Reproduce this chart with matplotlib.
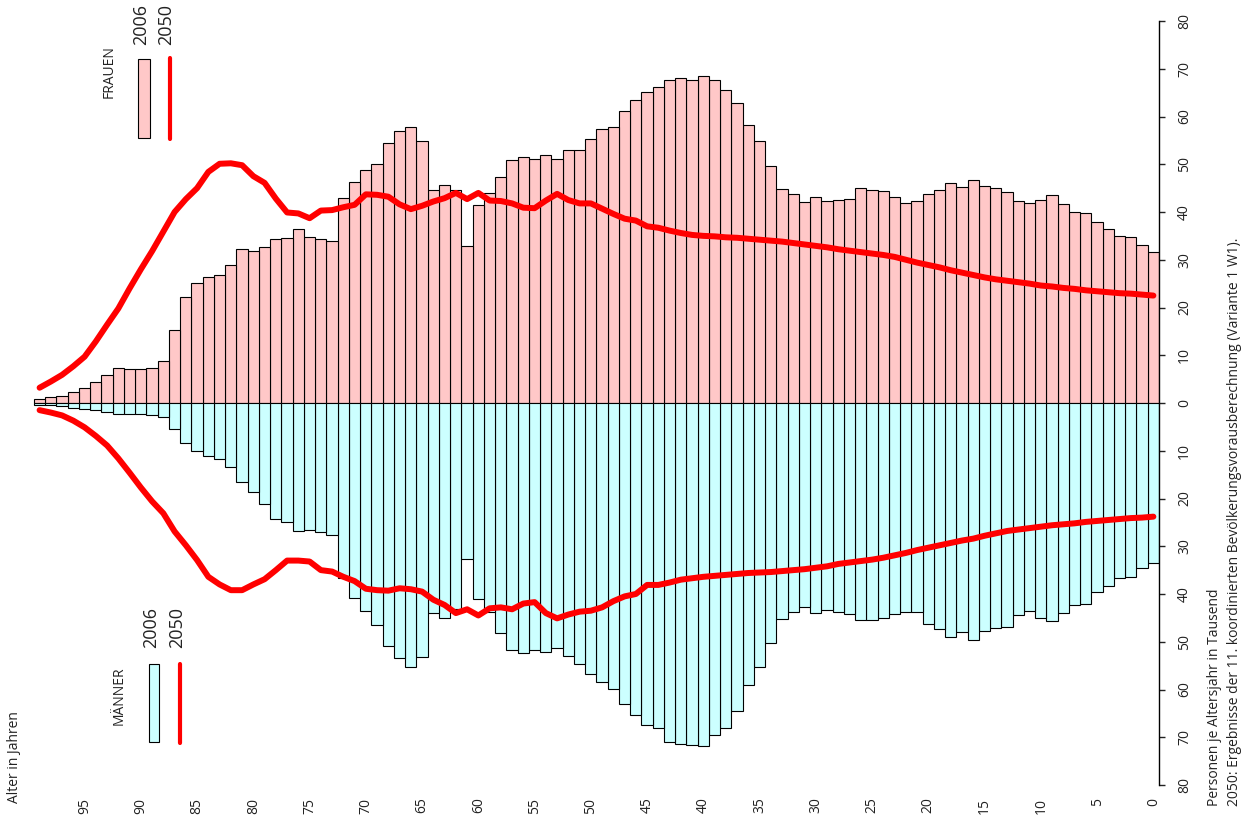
import matplotlib.pyplot as plt
from matplotlib.patches import Rectangle
from matplotlib.lines import Line2D
import numpy as np

plt.rcParams['font.family'] = ['Open Sans', 'DejaVu Sans']

ages = list(range(100))

# 2006, Personen je Altersjahr in Tausend (Alter 0..99)
frauen_2006 = [31.7, 33.0, 34.8, 35.0, 36.4, 38.0, 39.7, 40.1, 41.7, 43.6,
               42.5, 41.9, 42.4, 44.2, 45.0, 45.5, 46.8, 45.2, 46.1, 44.7,
               43.7, 42.4, 41.9, 43.1, 44.4, 44.7, 45.1, 42.8, 42.6, 42.4,
               43.1, 42.0, 43.8, 44.9, 49.6, 54.9, 58.2, 62.8, 65.5, 67.6,
               68.4, 67.6, 68.1, 67.6, 66.1, 65.1, 63.5, 61.2, 57.9, 57.3,
               55.2, 53.0, 53.0, 51.2, 51.9, 51.0, 51.6, 50.8, 47.3, 43.9,
               41.5, 32.9, 44.7, 45.7, 44.7, 54.8, 57.8, 56.9, 54.5, 50.0,
               48.7, 46.2, 42.9, 34.0, 34.3, 34.7, 36.5, 34.6, 34.3, 32.6,
               31.8, 32.2, 29.0, 26.8, 26.3, 25.1, 22.2, 15.3, 8.8, 7.3,
               7.1, 7.2, 7.3, 5.8, 4.5, 3.1, 2.2, 1.4, 1.2, 0.9]

maenner_2006 = [33.6, 34.5, 36.4, 36.6, 38.3, 39.6, 42.1, 42.4, 44.0, 45.7,
                45.0, 43.6, 44.5, 46.9, 47.1, 47.8, 49.6, 48.0, 49.0, 47.4,
                46.3, 43.7, 43.7, 44.1, 45.0, 45.5, 45.5, 44.1, 43.7, 43.4,
                43.9, 42.8, 43.8, 45.3, 50.2, 55.3, 59.1, 64.4, 68.0, 69.5,
                71.8, 71.6, 71.5, 71.0, 68.1, 67.4, 65.3, 63.0, 59.9, 58.4,
                56.8, 54.7, 53.0, 51.3, 52.1, 51.7, 52.4, 51.7, 48.2, 43.8,
                41.0, 32.7, 43.1, 45.1, 44.0, 53.1, 55.2, 53.5, 50.8, 46.5,
                43.6, 40.9, 36.6, 27.7, 27.1, 26.7, 26.9, 25.0, 24.3, 21.2,
                18.6, 16.5, 13.3, 11.7, 11.0, 10.1, 8.3, 5.4, 3.0, 2.6,
                2.3, 2.3, 2.2, 1.8, 1.4, 1.2, 1.0, 0.6, 0.4, 0.4]

# 2050, Variante 1 W1
frauen_2050 = [22.5, 22.7, 22.9, 23.0, 23.2, 23.4, 23.6, 23.9, 24.1, 24.4,
               24.6, 25.0, 25.3, 25.6, 25.9, 26.3, 26.8, 27.3, 27.8, 28.4,
               28.9, 29.4, 30.0, 30.6, 31.0, 31.3, 31.6, 31.9, 32.2, 32.6,
               32.9, 33.2, 33.5, 33.8, 34.0, 34.2, 34.4, 34.6, 34.7, 34.9,
               35.0, 35.2, 35.6, 36.1, 36.7, 37.0, 38.2, 38.6, 39.6, 40.7,
               41.8, 41.8, 42.5, 43.8, 42.4, 40.8, 40.9, 41.8, 42.3, 42.4,
               44.0, 42.7, 44.0, 42.9, 42.2, 41.3, 40.6, 41.6, 43.2, 43.6,
               43.7, 41.5, 41.0, 40.4, 40.3, 38.7, 39.7, 39.9, 42.8, 46.1,
               47.5, 49.8, 50.2, 50.1, 48.4, 45.0, 42.7, 40.0, 35.9, 31.8,
               28.0, 24.0, 19.8, 16.4, 12.9, 9.7, 7.7, 5.9, 4.5, 3.2]

maenner_2050 = [23.8, 24.0, 24.1, 24.3, 24.5, 24.7, 24.9, 25.2, 25.4, 25.6,
                25.9, 26.2, 26.5, 26.8, 27.3, 27.8, 28.4, 28.8, 29.3, 29.8,
                30.3, 30.8, 31.4, 31.9, 32.4, 32.8, 33.1, 33.4, 33.7, 34.2,
                34.5, 34.8, 35.0, 35.2, 35.4, 35.5, 35.6, 35.8, 36.0, 36.2,
                36.4, 36.7, 37.0, 37.6, 38.1, 38.1, 40.0, 40.5, 41.5, 42.8,
                43.5, 43.7, 44.3, 45.1, 44.0, 41.7, 42.0, 43.2, 42.8, 43.0,
                44.5, 43.2, 44.0, 42.3, 41.2, 39.5, 39.0, 38.8, 39.3, 39.2,
                38.9, 37.3, 36.4, 35.3, 35.0, 33.2, 33.0, 33.0, 35.0, 36.9,
                38.0, 39.2, 39.2, 38.0, 36.4, 32.9, 29.8, 26.9, 23.1, 20.6,
                17.7, 14.6, 11.6, 8.9, 6.9, 5.1, 3.7, 2.6, 2.0, 1.5]

age_ticks = list(range(0, 100, 5))
value_ticks = list(range(-80, 81, 10))

pink = '#FFC8C8'
cyan = '#CCFFFF'

W, H = 1250, 816
fig = plt.figure(figsize=(12.5, 8.16), dpi=100)
ax = fig.add_axes([0, (H - 785) / H, 1159 / W, (785 - 21) / H])

ax.bar(ages, frauen_2006, width=1, color=pink, edgecolor='black', linewidth=0.8)
ax.bar(ages, -np.array(maenner_2006), width=1, color=cyan, edgecolor='black', linewidth=0.8)
ax.plot(ages, frauen_2050, color='red', linewidth=4.3, solid_capstyle='round')
ax.plot(ages, -np.array(maenner_2050), color='red', linewidth=4.3, solid_capstyle='round')

ax.set_xlim(102.52, -0.5)
ax.set_ylim(-80, 80)

for side in ['top', 'left', 'bottom']:
    ax.spines[side].set_visible(False)
ax.spines['right'].set_linewidth(1.0)

ax.yaxis.tick_right()
ax.set_yticks(value_ticks)
ax.set_yticklabels([str(abs(v)) for v in value_ticks], rotation=90, va='center')
ax.tick_params(axis='y', length=4, width=1, pad=9, labelsize=10, colors='#222222')
ax.set_xticks(age_ticks)
ax.set_xticklabels([str(a) for a in age_ticks], rotation=90)
ax.tick_params(axis='x', length=0, pad=9, labelsize=10, colors='#222222')


def ftext(x, y, s, size=10, **kw):
    fig.text(x / W, 1 - y / H, s, rotation=90, fontsize=size, color='#222222', **kw)


# legend Frauen
ftext(109, 98, 'FRAUEN', ha='center', va='bottom')
ftext(141, 45, '2006', size=13, ha='center', va='bottom')
ftext(166, 45, '2050', size=13, ha='center', va='bottom')
fig.add_artist(Rectangle((138 / W, 1 - 138 / H), 12 / W, 79 / H, transform=fig.transFigure,
                         facecolor=pink, edgecolor='black', linewidth=0.8))
fig.add_artist(Line2D([170 / W, 170 / W], [1 - 58 / H, 1 - 139 / H], transform=fig.transFigure,
                      color='red', linewidth=3, solid_capstyle='round'))

# legend Maenner
ftext(119, 725, 'MÄNNER', ha='center', va='bottom')
ftext(151, 648, '2006', size=13, ha='center', va='bottom')
ftext(177, 648, '2050', size=13, ha='center', va='bottom')
fig.add_artist(Rectangle((149 / W, 1 - 742 / H), 10 / W, 78 / H, transform=fig.transFigure,
                         facecolor=cyan, edgecolor='black', linewidth=0.8))
fig.add_artist(Line2D([180 / W, 180 / W], [1 - 664 / H, 1 - 743 / H], transform=fig.transFigure,
                      color='red', linewidth=3, solid_capstyle='round'))

ftext(15, 803, 'Alter in Jahren', ha='center', va='bottom')
ftext(1214, 806, 'Personen je Altersjahr in Tausend', ha='center', va='bottom')
ftext(1234, 806, '2050: Ergebnisse der 11. koordinierten Bevölkerungsvorausberechnung (Variante 1 W1).',
      ha='center', va='bottom')

plt.savefig('out.png', dpi=100)
